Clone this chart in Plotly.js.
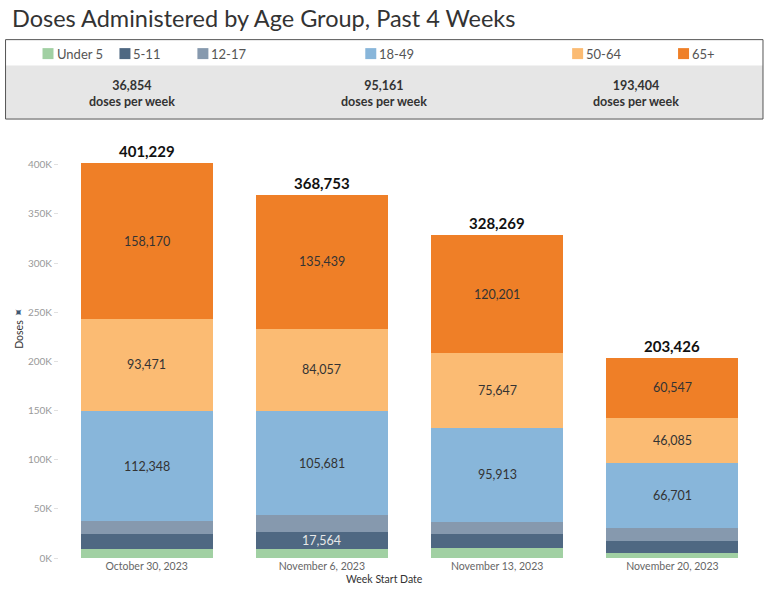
<!DOCTYPE html>
<html>
<head>
<meta charset="utf-8">
<script src="https://cdn.plot.ly/plotly-3.0.1.min.js"></script>
<style>
html,body{margin:0;padding:0;background:#fff;}
#chart{width:770px;height:589px;}
</style>
</head>
<body>
<div id="chart"></div>
<script>
// ---------- DATA ----------
const categories = ['October 30, 2023', 'November 6, 2023', 'November 13, 2023', 'November 20, 2023'];
const seriesNames = ['Under 5', '5-11', '12-17', '18-49', '50-64', '65+'];
const under5    = [9200, 9300, 9800, 5200];
const age5to11  = [14800, 17564, 14200, 12200];
const age12to17 = [13240, 16712, 12508, 12693];
const age18to49 = [112348, 105681, 95913, 66701];
const age50to64 = [93471, 84057, 75647, 46085];
const age65plus = [158170, 135439, 120201, 60547];
// which segment values are printed inside the bars
const labelShown5to11 = [false, true, false, false];
const yTickVals = [0, 50000, 100000, 150000, 200000, 250000, 300000, 350000, 400000];
const yTickText = ['0K', '50K', '100K', '150K', '200K', '250K', '300K', '350K', '400K'];
const summaryCaption = 'doses per week';

// ---------- STYLE / LAYOUT ----------
const colors = ['#a1d0a3', '#4f6882', '#8699ae', '#88b6da', '#fbbb73', '#ef7f27'];
const FONT = 'Lato, "Open Sans", sans-serif';
const W = 770, H = 589;
const ML = 58.5, MR = 10, MT = 144.5, MB = 31;
const PW = W - ML - MR, PH = H - MT - MB;
const px = v => (v - ML) / PW;
const py = v => (H - MB - v) / PH;

const seriesData = [under5, age5to11, age12to17, age18to49, age50to64, age65plus];
const fmt = n => Math.round(n).toLocaleString('en-US');

const traces = seriesData.map((vals, i) => ({
  type: 'bar',
  name: seriesNames[i],
  x: categories,
  y: vals,
  marker: {color: colors[i], line: {width: 0}},
  hoverinfo: 'skip',
  showlegend: false
}));

const annotations = [];
const shapes = [];

// segment labels
const showMask = [
  [false, false, false, false],
  labelShown5to11,
  [false, false, false, false],
  [true, true, true, true],
  [true, true, true, true],
  [true, true, true, true]
];
categories.forEach((cat, j) => {
  let base = 0;
  seriesData.forEach((vals, i) => {
    if (showMask[i][j]) {
      annotations.push({
        x: cat, y: base + vals[j] / 2, xref: 'x', yref: 'y',
        text: fmt(vals[j]), showarrow: false,
        font: {family: FONT, size: 12.5, color: i === 1 ? '#e8e8e8' : '#333'}
      });
    }
    base += vals[j];
  });
  // total
  annotations.push({
    x: cat, y: base, xref: 'x', yref: 'y', yanchor: 'bottom', yshift: 1,
    text: '<b>' + fmt(base) + '</b>', showarrow: false,
    font: {family: FONT, size: 15, color: '#111'}
  });
});

// title
annotations.push({
  xref: 'paper', yref: 'paper', x: px(9), y: py(17), xanchor: 'left', yanchor: 'middle',
  text: 'Doses Administered by Age Group, Past 4 Weeks', showarrow: false,
  font: {family: FONT, size: 23.5, color: '#333'}
});

// header box
shapes.push({type: 'rect', xref: 'paper', yref: 'paper', x0: px(5), x1: px(763), y0: py(65), y1: py(118.5),
  fillcolor: '#e6e6e6', line: {width: 0}, layer: 'below'});
shapes.push({type: 'rect', xref: 'paper', yref: 'paper', x0: px(5), x1: px(763), y0: py(39), y1: py(118.5),
  fillcolor: 'rgba(0,0,0,0)', line: {width: 1, color: '#555'}});

// legend
const legendX = [42, 119, 197, 365, 572, 678];
seriesNames.forEach((name, i) => {
  const x0 = legendX[i];
  shapes.push({type: 'rect', xref: 'paper', yref: 'paper', x0: px(x0), x1: px(x0 + 11), y0: py(47.5), y1: py(58.5),
    fillcolor: colors[i], line: {width: 0}});
  annotations.push({
    xref: 'paper', yref: 'paper', x: px(x0 + 12), y: py(53), xanchor: 'left', yanchor: 'middle',
    text: name, showarrow: false, font: {family: FONT, size: 13, color: '#555'}
  });
});

// summary numbers (weekly averages)
const avg = arrs => arrs.reduce((s, a) => s + a.reduce((p, q) => p + q, 0), 0) / categories.length;
const summaries = [avg([under5, age5to11, age12to17]), avg([age18to49]), avg([age50to64, age65plus])];
const summaryX = [132, 384, 636];
summaries.forEach((v, i) => {
  annotations.push({
    xref: 'paper', yref: 'paper', x: px(summaryX[i]), y: py(92.5), xanchor: 'center', yanchor: 'middle',
    text: '<b>' + fmt(v) + '</b><br><b>' + summaryCaption + '</b>', showarrow: false,
    font: {family: FONT, size: 12.5, color: '#333'}, align: 'center'
  });
});

// axis titles
annotations.push({
  xref: 'paper', yref: 'paper', x: px(384), y: py(579), xanchor: 'center', yanchor: 'middle',
  text: 'Week Start Date', showarrow: false, font: {family: FONT, size: 10.5, color: '#333'}
});
annotations.push({
  xref: 'paper', yref: 'paper', x: px(19), y: py(334), xanchor: 'center', yanchor: 'middle',
  text: 'Doses', textangle: -90, showarrow: false, font: {family: FONT, size: 10.5, color: '#333'}
});
annotations.push({
  xref: 'paper', yref: 'paper', x: px(18), y: py(313), xanchor: 'center', yanchor: 'middle',
  text: '✦', textangle: -45, showarrow: false, font: {family: 'DejaVu Sans', size: 12, color: '#3f5873'}
});

const layout = {
  width: W, height: H,
  margin: {l: ML, r: MR, t: MT, b: MB, pad: 0},
  paper_bgcolor: '#fff', plot_bgcolor: '#fff',
  barmode: 'stack',
  bargap: 0.246,
  font: {family: FONT},
  xaxis: {
    type: 'category', showgrid: false, zeroline: false, showline: false, ticks: '',
    tickfont: {family: FONT, size: 10.5, color: '#666'}, fixedrange: true
  },
  yaxis: {
    range: [0, 420000], tickvals: yTickVals, ticktext: yTickText,
    showgrid: false, zeroline: false, showline: false,
    ticks: 'outside', ticklen: 4, tickcolor: '#e0e0e0',
    tickfont: {family: FONT, size: 10, color: '#999'}, fixedrange: true
  },
  annotations: annotations,
  shapes: shapes,
  showlegend: false
};

Plotly.newPlot('chart', traces, layout, {displayModeBar: false, staticPlot: true});
</script>
</body>
</html>
